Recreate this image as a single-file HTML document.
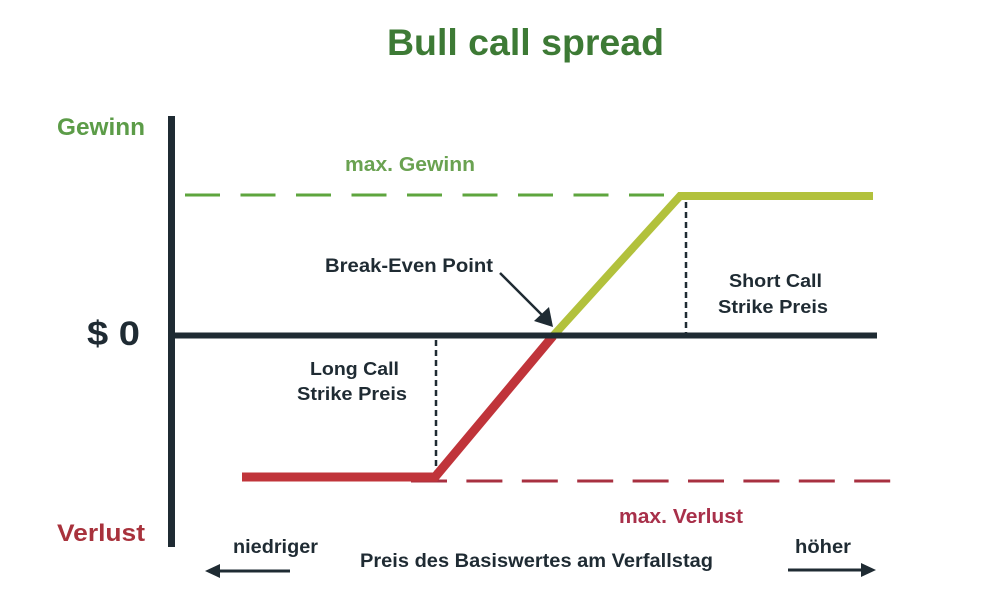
<!DOCTYPE html>
<html>
<head>
<meta charset="utf-8">
<style>
  html, body { margin:0; padding:0; background:#ffffff; }
  svg { display:block; }
  text { font-family: "Liberation Sans", "DejaVu Sans", sans-serif; font-weight: bold; }
</style>
</head>
<body>
<svg width="1000" height="600" viewBox="0 0 1000 600" xmlns="http://www.w3.org/2000/svg">
  <rect width="1000" height="600" fill="#ffffff"/>

  <!-- Title -->
  <text x="387" y="55" font-size="37" fill="#3d7a35" textLength="277" lengthAdjust="spacingAndGlyphs">Bull call spread</text>

  <!-- Y axis labels -->
  <text x="57" y="135" font-size="24" fill="#5c9c48" textLength="88" lengthAdjust="spacingAndGlyphs">Gewinn</text>
  <text x="87" y="345" font-size="34" fill="#1f2b33" textLength="53" lengthAdjust="spacingAndGlyphs">$ 0</text>
  <text x="57" y="541" font-size="24" fill="#a8323c" textLength="88" lengthAdjust="spacingAndGlyphs">Verlust</text>

  <!-- max Gewinn dashed line -->
  <line x1="185" y1="195" x2="665" y2="195" stroke="#5ea53e" stroke-width="3" stroke-dasharray="35 20.5"/>
  <text x="345" y="171" font-size="20" fill="#6aa251" textLength="130" lengthAdjust="spacingAndGlyphs">max. Gewinn</text>

  <!-- max Verlust dashed line -->
  <line x1="411" y1="481" x2="892" y2="481" stroke="#a83040" stroke-width="3" stroke-dasharray="36 19.4"/>
  <text x="619" y="523" font-size="20" fill="#a8304a" textLength="124" lengthAdjust="spacingAndGlyphs">max. Verlust</text>

  <!-- vertical dashed strike lines -->
  <line x1="436" y1="340" x2="436" y2="473" stroke="#1f2b33" stroke-width="2.5" stroke-dasharray="6 4"/>
  <line x1="686" y1="202" x2="686" y2="334" stroke="#1f2b33" stroke-width="2.5" stroke-dasharray="6 4"/>

  <!-- payoff: red part -->
  <polyline points="242,477 435,477 553,336" fill="none" stroke="#c0343a" stroke-width="9" stroke-linejoin="miter"/>
  <!-- payoff: green part -->
  <polyline points="553,336 680,196 873,196" fill="none" stroke="#b2c13c" stroke-width="8" stroke-linejoin="miter"/>

  <!-- axes -->
  <line x1="171.5" y1="116" x2="171.5" y2="547" stroke="#1f2b33" stroke-width="7"/>
  <line x1="168" y1="335.5" x2="877" y2="335.5" stroke="#1f2b33" stroke-width="6"/>

  <!-- Break-even label and arrow -->
  <text x="325" y="272" font-size="19.5" fill="#1f2b33" textLength="168" lengthAdjust="spacingAndGlyphs">Break-Even Point</text>
  <line x1="500" y1="273" x2="543" y2="316" stroke="#1f2b33" stroke-width="2.5"/>
  <polygon points="553,327 534,321 549,307" fill="#1f2b33"/>

  <!-- Strike labels -->
  <text x="310" y="375" font-size="18.5" fill="#1f2b33" textLength="89" lengthAdjust="spacingAndGlyphs">Long Call</text>
  <text x="297" y="400" font-size="18.5" fill="#1f2b33" textLength="110" lengthAdjust="spacingAndGlyphs">Strike Preis</text>
  <text x="729" y="287" font-size="18.5" fill="#1f2b33" textLength="93" lengthAdjust="spacingAndGlyphs">Short Call</text>
  <text x="718" y="313" font-size="18.5" fill="#1f2b33" textLength="110" lengthAdjust="spacingAndGlyphs">Strike Preis</text>

  <!-- bottom axis labels -->
  <text x="233" y="553" font-size="19" fill="#1f2b33" textLength="85" lengthAdjust="spacingAndGlyphs">niedriger</text>
  <line x1="290" y1="571" x2="216" y2="571" stroke="#1f2b33" stroke-width="3"/>
  <polygon points="205,571 220,564 220,578" fill="#1f2b33"/>

  <text x="360" y="567" font-size="19" fill="#1f2b33" textLength="353" lengthAdjust="spacingAndGlyphs">Preis des Basiswertes am Verfallstag</text>

  <text x="795" y="553" font-size="19" fill="#1f2b33" textLength="56" lengthAdjust="spacingAndGlyphs">höher</text>
  <line x1="788" y1="570" x2="864" y2="570" stroke="#1f2b33" stroke-width="3"/>
  <polygon points="876,570 861,563 861,577" fill="#1f2b33"/>
</svg>
</body>
</html>
